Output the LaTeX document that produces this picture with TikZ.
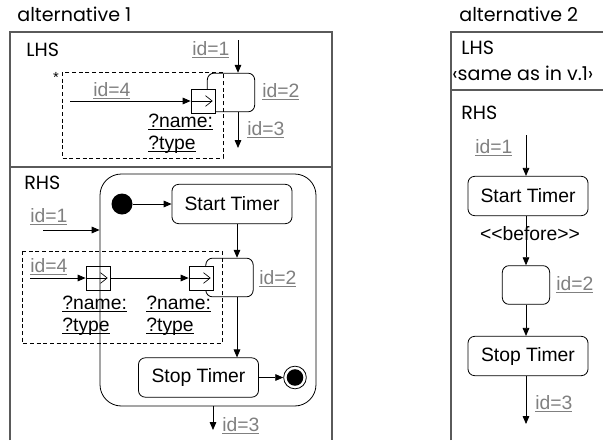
\documentclass[tikz,border=0pt]{standalone}
\usepackage{fontspec}
\setmainfont{Liberation Sans}
\newfontfamily\handfont{Poppins}
\usetikzlibrary{arrows.meta}

\definecolor{idgray}{HTML}{808080}
\definecolor{framegray}{HTML}{5A5A5A}

\newcommand{\umlfont}{\fontsize{14.5}{17}\selectfont}
\newcommand{\undl}[1]{\setbox0=\hbox{#1}\rlap{\rule[-2.6pt]{\wd0}{0.8pt}}\box0}
\newcommand{\idref}[1]{\textcolor{idgray}{\undl{#1}}}

\tikzset{
  frame/.style={draw=framegray, line width=0.9pt},
  state/.style={draw, rounded corners=5pt, fill=white, minimum width=90pt,
                minimum height=29.5pt, inner sep=0pt},
  action/.style={draw, rounded corners=5pt, fill=white, minimum width=35.5pt,
                 minimum height=29pt, inner sep=0pt},
  region/.style={draw, rounded corners=16pt, inner sep=0pt},
  pin/.style={draw, fill=white, minimum size=18pt, inner sep=0pt},
  pinflow/.style={-{Straight Barb[length=5pt,width=8pt]}, line width=0.5pt},
  group/.style={draw, dash pattern=on 3pt off 2pt, line width=0.5pt},
  label/.style={inner sep=0pt, anchor=base west},
  hand/.style={font=\handfont\fontsize{14.3}{16}\selectfont, inner sep=0pt, anchor=west},
  initial/.style={circle, fill, minimum size=15.75pt, inner sep=0pt},
  final/.style={circle, draw, fill=white, minimum size=17pt, inner sep=0pt}
}

\begin{document}
\begin{tikzpicture}[x=0.75pt, y=-0.75pt, font=\umlfont, line width=0.6pt,
                    >={Triangle[length=6pt,width=5pt]}]
  \useasboundingbox (0,0) rectangle (603,440);

  %% alternative 1
  \node[hand] (alt1) at (17,14) {alternative 1};
  \draw[frame] (10,440) -- (10,32) -- (332,32) -- (332,440);
  \draw[frame] (10,167) -- (332,167);

  % left-hand side
  \node[hand] (lhs1) at (26,50) {LHS};
  \node[action] (act1) at (231,92.5) {};
  \node[pin] (pin1) at (203,101) {};
  \draw[pinflow] (pin1.west) -- ([xshift=-2pt]pin1.east);
  \coordinate (in1) at (238,40);
  \coordinate (out1) at (238,148);
  \coordinate (src1) at (70,101);
  \draw[->] (in1) -- (in1 |- act1.north);
  \draw[->] (act1.south -| out1) -- (out1);
  \draw[->] (src1) -- (pin1);
  \node[label] (lid1) at (192,55) {\idref{id=1}};
  \node[label] (lid2) at (262,97) {\idref{id=2}};
  \node[label] (lid3) at (247,135) {\idref{id=3}};
  \node[label] (lid4) at (93,96) {\idref{id=4}};
  \node[label] (lname) at (148,127) {\undl{?name:}};
  \node[label] (ltype) at (148,149) {\undl{?type}};
  \draw[group] (62,72) rectangle (223,158);
  \node[font=\fontsize{11}{12}\selectfont, inner sep=0pt] (star) at (56,77) {*};

  % right-hand side
  \node[hand] (rhs1) at (24,183) {RHS};
  \node[initial] (init) at (122,204) {};
  \node[state] (start1) at (232,204) {Start Timer};
  \node[action] (act2) at (229.5,277.5) {};
  \node[pin] (pin2) at (98,278) {};
  \node[pin] (pin3) at (201,278) {};
  \node[state] (stop1) at (198.5,377.5) {Stop Timer};
  \node[final] (fin) at (295,377.5) {};
  \fill (fin.center) circle (6.2pt);
  \draw[pinflow] (pin2.west) -- ([xshift=-2pt]pin2.east);
  \draw[pinflow] (pin3.west) -- ([xshift=-2pt]pin3.east);
  \node[region, minimum width=162pt, minimum height=174pt] (body) at (208,290) {};

  \coordinate (v1) at (237,0);
  \coordinate (src2) at (43,230);
  \coordinate (src3) at (30,278);
  \coordinate (out2) at (213,430);
  \draw[->] (init) -- (start1);
  \draw[->] (start1.south -| v1) -- (act2.north -| v1);
  \draw[->] (act2.south -| v1) -- (stop1.north -| v1);
  \draw[->] (stop1) -- (fin);
  \draw[->] (src2) -- (src2 -| body.west);
  \draw[->] (src3) -- (pin2);
  \draw[->] (pin2) -- (pin3);
  \draw[->] (body.south -| out2) -- (out2);

  \node[label] (rid1) at (30,222) {\idref{id=1}};
  \node[label] (rid4) at (30,272) {\idref{id=4}};
  \node[label] (rid2) at (259,284) {\idref{id=2}};
  \node[label] (rid3) at (222,431) {\idref{id=3}};
  \node[label] (rname1) at (62,309) {\undl{?name:}};
  \node[label] (rtype1) at (62,331) {\undl{?type}};
  \node[label] (rname2) at (146,309) {\undl{?name:}};
  \node[label] (rtype2) at (146,331) {\undl{?type}};
  \draw[group] (22,251) rectangle (222,343);

  %% alternative 2
  \node[hand] (alt2) at (459,14) {alternative 2};
  \draw[frame] (451,440) -- (451,32) -- (603,32);
  \draw[frame] (451,90) -- (603,90);
  \node[hand] (lhs2) at (461,48) {LHS};
  \node[hand] (same) at (452,73) {‹same as in v.1›};
  \node[hand] (rhs2) at (461,113) {RHS};

  \node[state] (start2) at (528,196) {Start Timer};
  \node[action] (act3) at (526,285) {};
  \node[state] (stop2) at (528,356) {Stop Timer};
  \coordinate (v2) at (526,0);
  \coordinate (in2) at (526,135);
  \coordinate (out3) at (526,424);
  \draw[->] (in2) -- (in2 |- start2.north);
  \draw[->] (start2.south -| v2) -- (act3.north -| v2);
  \draw[->] (act3.south -| v2) -- (stop2.north -| v2);
  \draw[->] (stop2.south -| v2) -- (out3);
  \node[inner sep=0pt] (bef) at (530,234) {<\kern0pt<before>\kern0pt>};

  \node[label] (aid1) at (475,153) {\idref{id=1}};
  \node[label] (aid2) at (556,290) {\idref{id=2}};
  \node[label] (aid3) at (535,409) {\idref{id=3}};
\end{tikzpicture}
\end{document}
